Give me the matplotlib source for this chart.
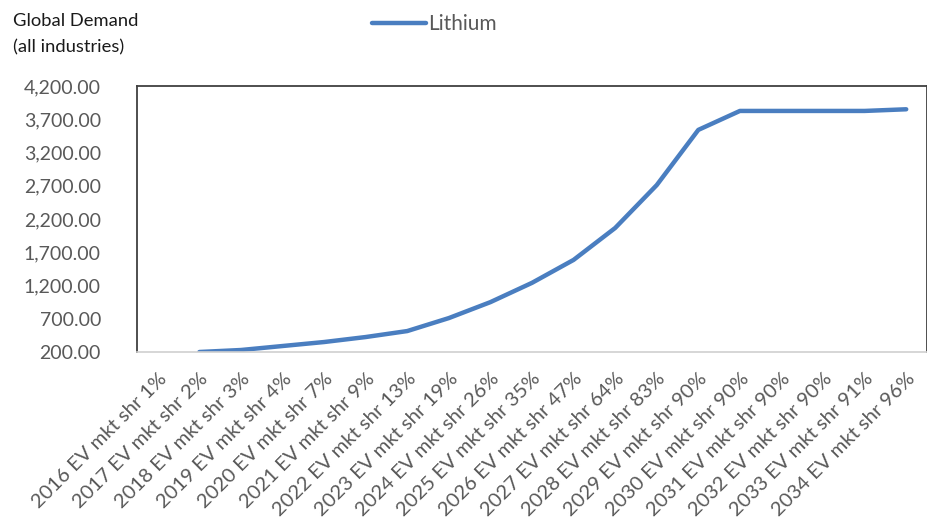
import numpy as np
import matplotlib
matplotlib.use("Agg")
import matplotlib.pyplot as plt
from matplotlib.ticker import FuncFormatter

plt.rcParams['font.family'] = ['Lato', 'DejaVu Sans']

years = list(range(2016, 2035))
ev_share = [1, 2, 3, 4, 7, 9, 13, 19, 26, 35, 47, 64, 83, 90, 90, 90, 90, 91, 96]
categories = [f"{y} EV mkt shr {s}%" for y, s in zip(years, ev_share)]
lithium = [np.nan, 200, 230, 290, 350, 425, 515, 710, 950, 1240, 1585, 2065,
           2710, 3540, 3825, 3825, 3825, 3825, 3850]

y_ticks = [200, 700, 1200, 1700, 2200, 2700, 3200, 3700, 4200]

fig = plt.figure(figsize=(9.28, 5.30), dpi=100)
ax = fig.add_axes([137 / 928, 1 - 352 / 530, (927 - 137) / 928, (352 - 86) / 530])

x = np.arange(len(categories))
ax.plot(x, lithium, color='#4A7EC0', lw=3.2, solid_capstyle='round',
        solid_joinstyle='round', label='Lithium')

ax.set_xlim(-0.5, len(categories) - 0.5)
ax.set_ylim(200, 4200)
ax.set_yticks(y_ticks)
ax.yaxis.set_major_formatter(FuncFormatter(lambda v, p: f"{v:,.2f}"))
ax.set_xticks(x)
ax.set_xticklabels(categories, rotation=45, ha='right', va='top',
                   rotation_mode='anchor')

ax.tick_params(axis='both', length=0, colors='#595959')
ax.tick_params(axis='y', pad=26, labelsize=14)
ax.tick_params(axis='x', pad=13, labelsize=14.6)

for side in ('left', 'top', 'right'):
    ax.spines[side].set_color('#404040')
    ax.spines[side].set_linewidth(1.3)
ax.spines['bottom'].set_color('#D0D0D0')
ax.spines['bottom'].set_linewidth(1.2)

fig.text(13 / 928, 1 - 34 / 530, "Global Demand\n(all industries)", fontsize=13.2,
         color='#1a1a1a', va='center', ha='left', linespacing=1.75)

fig.legend(loc='center', bbox_to_anchor=(434 / 928, 1 - 24 / 530), frameon=False,
           fontsize=15, handlelength=2.6, handletextpad=0.1,
           labelcolor='#595959')

fig.savefig('out.png', dpi=100, facecolor='white')
